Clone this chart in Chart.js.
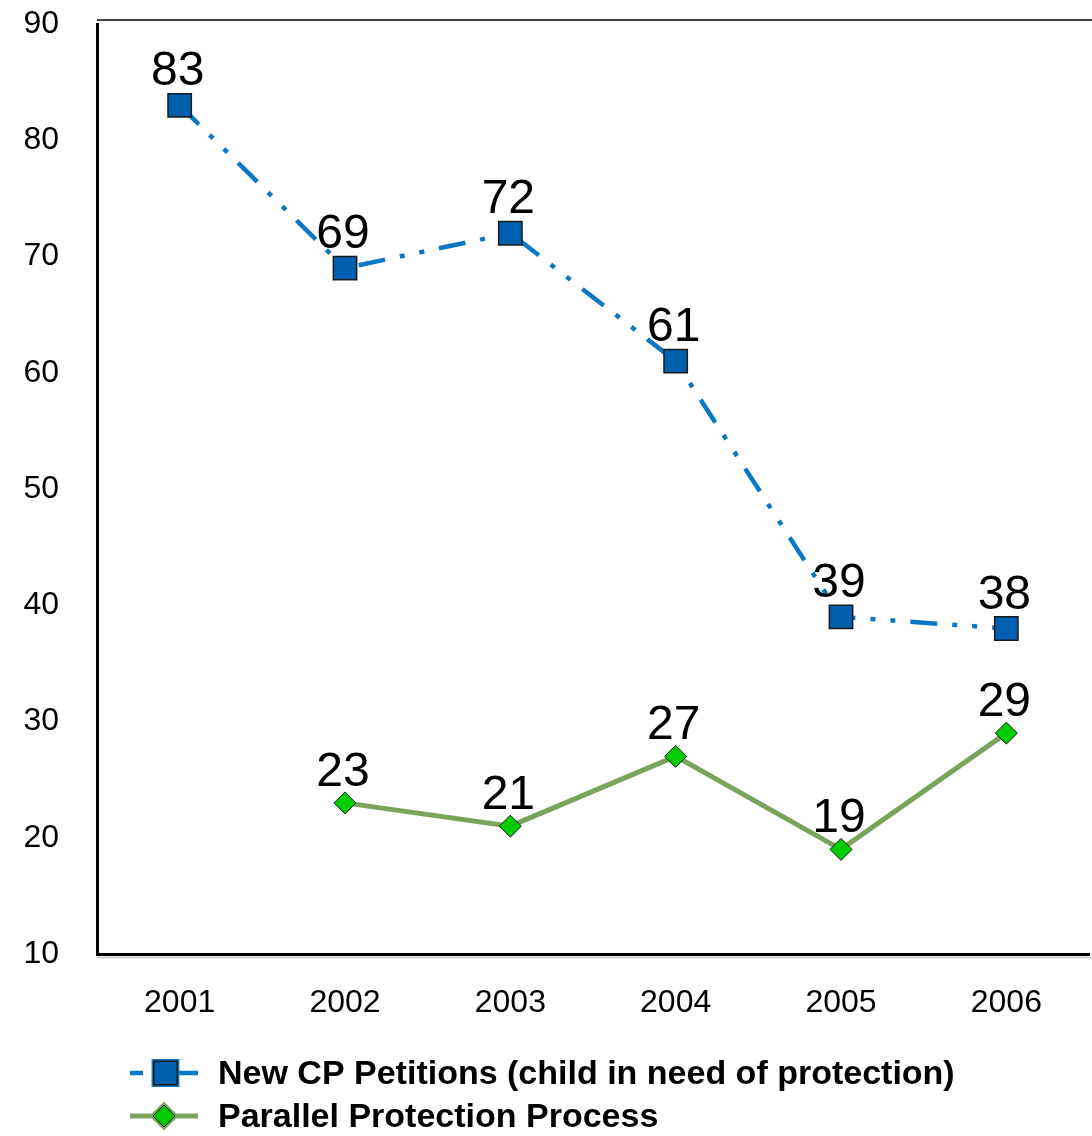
<!DOCTYPE html>
<html>
<head>
<meta charset="utf-8">
<script src="https://cdn.jsdelivr.net/npm/chart.js@4"></script>
<style>
  html, body { margin: 0; padding: 0; background: #fff; }
  #wrap { width: 1092px; height: 1136px; position: relative; }
</style>
</head>
<body>
<div id="wrap"><canvas id="cpChart"></canvas></div>
<script>
// chart data
const years = ['2001', '2002', '2003', '2004', '2005', '2006'];
const newPetitions = [83, 69, 72, 61, 39, 38];
const parallelProcess = [null, 23, 21, 27, 19, 29];
const yTicks = [10, 20, 30, 40, 50, 60, 70, 80, 90];
const seriesNames = ['New CP Petitions (child in need of protection)', 'Parallel Protection Process'];

const FONT = '"Liberation Sans", Arial, sans-serif';
Chart.defaults.font.family = FONT;
Chart.defaults.color = '#000';

// value labels above each point
const valueLabels = {
  id: 'valueLabels',
  afterDatasetsDraw(chart) {
    const ctx = chart.ctx;
    ctx.save();
    ctx.font = '48px ' + FONT;
    ctx.fillStyle = '#000';
    ctx.textAlign = 'center';
    ctx.textBaseline = 'alphabetic';
    chart.data.datasets.forEach((ds, i) => {
      const meta = chart.getDatasetMeta(i);
      const off = i === 0 ? 20 : 17;
      meta.data.forEach((pt, j) => {
        const v = ds.data[j];
        if (v === null) return;
        ctx.fillText(String(v), pt.x - 2, pt.y - off);
      });
    });
    ctx.restore();
  }
};

// frame: top line + shadow below x axis
const frame = {
  id: 'frame',
  beforeDatasetsDraw(chart) {
    const { ctx, chartArea } = chart;
    ctx.save();
    ctx.strokeStyle = '#000';
    ctx.lineWidth = 1.5;
    ctx.beginPath();
    ctx.moveTo(chartArea.left, chartArea.top - 4);
    ctx.lineTo(chart.width, chartArea.top - 4);
    ctx.stroke();
    ctx.strokeStyle = '#d0d0d0';
    ctx.lineWidth = 2;
    ctx.beginPath();
    ctx.moveTo(chartArea.left, chartArea.bottom + 3.5);
    ctx.lineTo(chart.width, chartArea.bottom + 3.5);
    ctx.stroke();
    ctx.restore();
  }
};

// legend drawn under the axis, one row per series
const bottomLegend = {
  id: 'bottomLegend',
  afterDraw(chart) {
    const ctx = chart.ctx;
    const rows = [1073, 1116];
    ctx.save();
    chart.data.datasets.forEach((ds, i) => {
      const y = rows[i];
      ctx.strokeStyle = ds.borderColor;
      ctx.lineWidth = ds.borderWidth;
      ctx.setLineDash(i === 0 ? [13, 9, 100] : []);
      ctx.beginPath();
      ctx.moveTo(130, y);
      ctx.lineTo(198, y);
      ctx.stroke();
      ctx.setLineDash([]);
      Chart.helpers.drawPoint(ctx, {
        pointStyle: ds.pointStyle,
        radius: ds.pointRadius,
        borderWidth: ds.pointBorderWidth
      }, i === 0 ? 165.5 : 164, y);
      ctx.fillStyle = ds.pointBackgroundColor;
      ctx.strokeStyle = ds.pointBorderColor;
      ctx.lineWidth = ds.pointBorderWidth;
      ctx.fill();
      ctx.stroke();
      ctx.font = 'bold 34px ' + FONT;
      ctx.fillStyle = '#000';
      ctx.textAlign = 'left';
      ctx.textBaseline = 'middle';
      ctx.fillText(seriesNames[i], 218, y + 2);
    });
    ctx.restore();
  }
};

function noPad(scale) {
  scale.paddingTop = 0;
  scale.paddingBottom = 0;
  scale.paddingLeft = 0;
  scale.paddingRight = 0;
}

new Chart(document.getElementById('cpChart'), {
  type: 'line',
  data: {
    labels: years,
    datasets: [
      {
        label: seriesNames[0],
        data: newPetitions,
        borderColor: '#0a78c4',
        borderWidth: 4.5,
        borderDash: [27, 15, 5, 15, 5, 15],
        pointStyle: 'rect',
        pointRadius: 16.5,
        pointBackgroundColor: '#005fae',
        pointBorderColor: '#1a1a1a',
        pointBorderWidth: 1.5,
        tension: 0,
        clip: false
      },
      {
        label: seriesNames[1],
        data: parallelProcess,
        borderColor: '#7aa35c',
        borderWidth: 5,
        pointStyle: 'rectRot',
        pointRadius: 11,
        pointBackgroundColor: '#00cc00',
        pointBorderColor: '#1a1a1a',
        pointBorderWidth: 1,
        tension: 0,
        spanGaps: false,
        clip: false
      }
    ]
  },
  options: {
    responsive: true,
    maintainAspectRatio: false,
    animation: false,
    layout: { autoPadding: false, padding: { top: 24, right: 3, left: 0, bottom: 100 } },
    plugins: {
      legend: { display: false },
      tooltip: { enabled: false }
    },
    scales: {
      x: {
        offset: true,
        grid: { display: false, drawTicks: false, offset: true },
        border: { display: true, color: '#000', width: 3 },
        ticks: { font: { size: 32 }, padding: 30, color: '#000', maxRotation: 0 },
        afterFit(scale) { scale.height = 82; noPad(scale); }
      },
      y: {
        min: 10,
        max: 90,
        afterBuildTicks(scale) { scale.ticks = yTicks.map(v => ({ value: v })); },
        grid: { display: false, drawTicks: false },
        border: { display: true, color: '#000', width: 3 },
        ticks: { font: { size: 32 }, padding: 38, color: '#000' },
        afterFit(scale) { scale.width = 97; noPad(scale); }
      }
    }
  },
  plugins: [frame, valueLabels, bottomLegend]
});
</script>
</body>
</html>
